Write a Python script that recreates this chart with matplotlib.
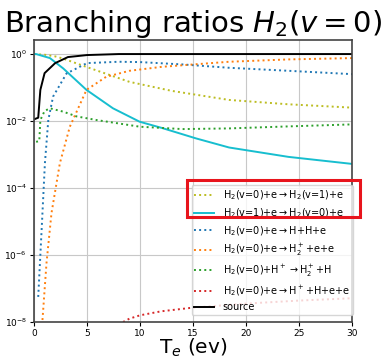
import numpy as np
import matplotlib
matplotlib.use('Agg')
from matplotlib import pyplot as plt
from matplotlib.patches import Rectangle

# log10 of branching ratio
te_yel = [0, 1, 2, 2.7, 5, 9, 13, 18.4, 24, 30]
lg_yel = [0, -0.02, -0.07, -0.13, -0.39, -0.83, -1.1, -1.37, -1.5, -1.6]

te_cyan = [0, 0.2, 1.5, 2.76, 4.95, 7.45, 9.96, 12.1, 15.3, 18.4, 24, 30]
lg_cyan = [0, 0, -0.12, -0.43, -1.07, -1.62, -2.02, -2.21, -2.52, -2.79, -3.07, -3.28]

te_blue = [0.4, 0.72, 1.03, 1.35, 1.8, 3.07, 5, 8, 10, 14, 18.4, 24, 30]
lg_blue = [-7.25, -5.25, -3.26, -1.97, -1.27, -0.58, -0.27, -0.23, -0.24, -0.31, -0.41, -0.5, -0.6]

te_orng = [0.8, 1.18, 1.65, 2.44, 3.38, 4.95, 6.8, 9, 12.1, 18.4, 24, 30]
lg_orng = [-7.94, -6.24, -4.75, -3.26, -2.17, -1.07, -0.68, -0.5, -0.38, -0.23, -0.16, -0.12]

te_grn = [0.2, 0.5, 0.6, 1.0, 1.5, 2.76, 4, 5.9, 10, 14, 18.4, 24, 30]
lg_grn = [-2.62, -2.6, -1.97, -1.7, -1.62, -1.72, -1.86, -1.97, -2.17, -2.24, -2.22, -2.16, -2.1]

te_red = [8.4, 9, 10, 12, 15, 20, 25, 30]
lg_red = [-8, -7.9, -7.8, -7.68, -7.57, -7.45, -7.36, -7.29]

te_src = [0, 0.4, 0.6, 1.0, 2, 3.2, 5, 8, 30]
lg_src = [-1.95, -1.9, -1.07, -0.57, -0.27, -0.09, -0.03, 0, 0]

labels = [r'H$_2$(v=0)+e$\rightarrow$H$_2$(v=1)+e',
          r'H$_2$(v=1)+e$\rightarrow$H$_2$(v=0)+e',
          r'H$_2$(v=0)+e$\rightarrow$H+H+e',
          r'H$_2$(v=0)+e$\rightarrow$H$_2^+$+e+e',
          r'H$_2$(v=0)+H$^+$$\rightarrow$H$_2^+$+H',
          r'H$_2$(v=0)+e$\rightarrow$H$^+$+H+e+e',
          'source']

fig = plt.figure(figsize=(3.84, 3.57), dpi=100)
ax = fig.add_axes([0.0885, 0.098, 0.8285, 0.79])

ax.semilogy(te_yel, 10**np.array(lg_yel), ':', color='tab:olive', lw=1.4, label=labels[0])
ax.semilogy(te_cyan, 10**np.array(lg_cyan), '-', color='tab:cyan', lw=1.4, label=labels[1])
ax.semilogy(te_blue, 10**np.array(lg_blue), ':', color='tab:blue', lw=1.4, label=labels[2])
ax.semilogy(te_orng, 10**np.array(lg_orng), ':', color='tab:orange', lw=1.4, label=labels[3])
ax.semilogy(te_grn, 10**np.array(lg_grn), ':', color='tab:green', lw=1.4, label=labels[4])
ax.semilogy(te_red, 10**np.array(lg_red), ':', color='tab:red', lw=1.4, label=labels[5])
ax.semilogy(te_src, 10**np.array(lg_src), '-', color='k', lw=1.4, label=labels[6])

ax.set_xlim(0, 30)
ax.set_ylim(1e-8, 10**0.42)
ax.set_yticks([1e0, 1e-2, 1e-4, 1e-6, 1e-8])
ax.minorticks_off()
ax.grid(True, color='#c8c8c8', lw=0.8)
ax.tick_params(labelsize=6.5, length=3, pad=2)
for s in ax.spines.values():
    s.set_color('#444444')
    s.set_linewidth(1.2)

ax.set_title(r'Branching ratios $H_2(v=0)$', fontsize=21, pad=3)
ax.set_xlabel(r'T$_e$ (ev)', fontsize=14.5, labelpad=-1)
ax.legend(loc='lower right', bbox_to_anchor=(353/384, 1-315/357), bbox_transform=fig.transFigure,
          borderaxespad=0, fontsize=7, handlelength=2.0, handletextpad=0.9,
          labelspacing=0.45, borderpad=0.3)

fig.add_artist(Rectangle((187/384, 1-217/357), 173/384, 37/357, transform=fig.transFigure,
                         fill=False, edgecolor='#e8141c', lw=2.2, clip_on=False))

fig.savefig('out.png', dpi=100)
